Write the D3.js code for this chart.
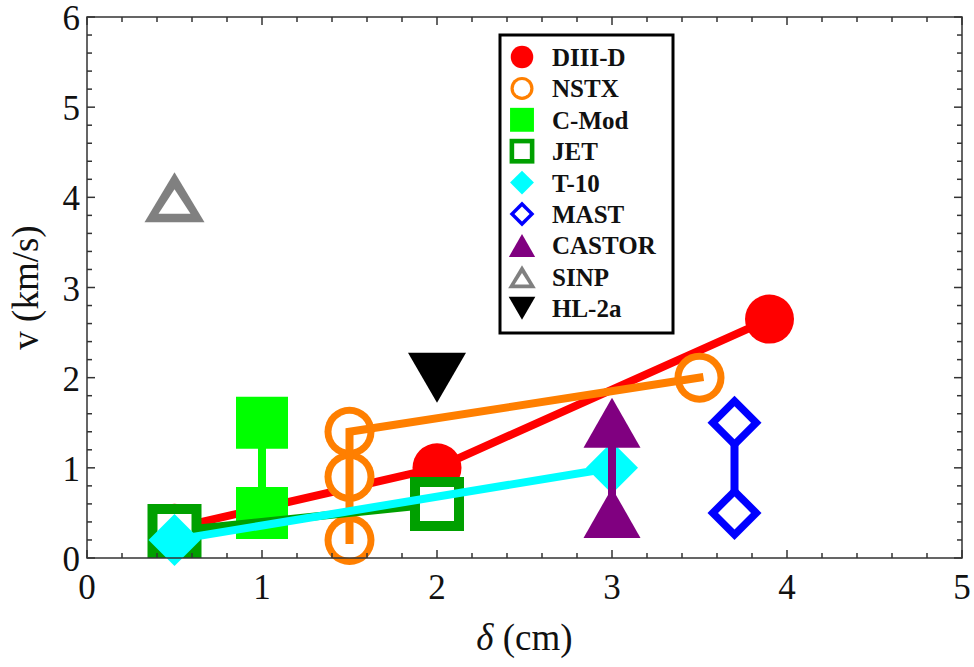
<!DOCTYPE html>
<html lang="en">
<head>
    <meta charset="utf-8">
    <title>v vs delta</title>
    <script src="https://cdn.jsdelivr.net/npm/d3@7"></script>
    <style>
        body { margin: 0; background: #fff; }
        svg { display: block; }
        text { font-family: "Liberation Serif", "Times New Roman", Times, serif; fill: #111; }
        .legend text { font-weight: bold; }
    </style>
</head>
<body>
    <svg id="chart" width="974" height="667"></svg>

    <script>
        // data: [delta (cm), v (km/s)]
        const diiid  = [[0.5, 0.33], [2, 1.0], [3.9, 2.65]];
        const nstx   = [[1.5, 0.2], [1.5, 0.9], [1.5, 1.4], [3.5, 2.0]];
        const cmod   = [[1, 1.5], [1, 0.5]];
        const jet    = [[0.5, 0.3], [2, 0.6]];
        const t10    = [[0.5, 0.2], [3, 1.0]];
        const mast   = [[3.7, 1.5], [3.7, 0.5]];
        const castor = [[3, 1.5], [3, 0.5]];
        const sinp   = [[0.5, 4.0]];
        const hl2a   = [[2, 2.0]];

        const labels = ["DIII-D", "NSTX", "C-Mod", "JET", "T-10", "MAST", "CASTOR", "SINP", "HL-2a"];
        const xTicks = [0, 1, 2, 3, 4, 5];
        const yTicks = [0, 1, 2, 3, 4, 5, 6];

        // styling per series (same order as labels)
        const colors = ["#ff0000", "#ff7f00", "#00ff00", "#00a000", "#00ffff", "#0000ff", "#800080", "#808080", "#000000"];
        const shapes = ["circle", "ocircle", "square", "osquare", "diamond", "odiamond", "triangle", "otriangle", "dtriangle"];
        const lineOnTop = [false, true, false, false, false, false, false, false, false];
        const allData = [diiid, nstx, cmod, jet, t10, mast, castor, sinp, hl2a];

        const svg = d3.select("#chart");
        const x = d3.scaleLinear().domain([0, 5]).range([87, 962]);
        const y = d3.scaleLinear().domain([0, 6]).range([558, 17]);

        // shape outlines; s = scale factor (1 for plot, smaller for legend)
        function outer(shape, s) {
            const p = d3.path();
            if (shape.endsWith("circle")) {
                const r = (shape === "circle" ? 24.5 : 25) * s;
                p.arc(0, 0, r, 0, 2 * Math.PI);
            } else if (shape.endsWith("square")) {
                const h = (shape === "square" ? 26 : 27) * s;
                p.rect(-h, -h, 2 * h, 2 * h);
            } else if (shape.endsWith("diamond")) {
                const h = (shape === "diamond" ? 26 : 27) * s;
                p.moveTo(0, -h); p.lineTo(h, 0); p.lineTo(0, h); p.lineTo(-h, 0); p.closePath();
            } else if (shape === "dtriangle") {
                const w = 29 * s, h = 25 * s;
                p.moveTo(-w, -h); p.lineTo(w, -h); p.lineTo(0, h); p.closePath();
            } else {
                const w = (shape === "triangle" ? 28.5 : 30) * s, h = 25 * s;
                p.moveTo(0, -h); p.lineTo(w, h); p.lineTo(-w, h); p.closePath();
            }
            return p.toString();
        }

        function inner(shape, s) {
            const p = d3.path();
            if (shape === "ocircle") {
                p.arc(0, 0, 18 * s, 0, 2 * Math.PI);
            } else if (shape === "osquare") {
                const h = 17 * s;
                p.rect(-h, -h, 2 * h, 2 * h);
            } else if (shape === "odiamond") {
                const h = 16.5 * s;
                p.moveTo(0, -h); p.lineTo(h, 0); p.lineTo(0, h); p.lineTo(-h, 0); p.closePath();
            } else if (shape === "otriangle") {
                p.moveTo(0, -8 * s); p.lineTo(16 * s, 16.5 * s); p.lineTo(-16 * s, 16.5 * s); p.closePath();
            } else {
                return null;
            }
            return p.toString();
        }

        function drawMarker(g, shape, color, cx, cy, s) {
            const m = g.append("g").attr("transform", `translate(${cx},${cy})`);
            m.append("path").attr("d", outer(shape, s)).attr("fill", color);
            const d = inner(shape, s);
            if (d) m.append("path").attr("d", d).attr("fill", "#fff");
        }

        const line = d3.line().x(d => x(d[0])).y(d => y(d[1]));
        const plot = svg.append("g");

        function drawLine(data, color) {
            plot.append("path")
                .attr("d", line(data))
                .attr("fill", "none")
                .attr("stroke", color)
                .attr("stroke-width", 8)
                .attr("stroke-linecap", "square")
                .attr("stroke-linejoin", "miter");
        }

        // each series: its line, then its markers (NSTX line sits over its circles)
        allData.forEach((data, i) => {
            if (data.length > 1 && !lineOnTop[i]) drawLine(data, colors[i]);
            data.forEach(d => drawMarker(plot, shapes[i], colors[i], x(d[0]), y(d[1]), 1));
            if (data.length > 1 && lineOnTop[i]) drawLine(data, colors[i]);
        });

        // frame with ticks on all sides
        const minorX = d3.range(0, 5.001, 0.2);
        const minorY = d3.range(0, 6.001, 0.2);
        const frame = svg.append("g").attr("stroke", "#333").attr("stroke-width", 1.5);
        frame.append("rect")
            .attr("x", x(0)).attr("y", y(6))
            .attr("width", x(5) - x(0)).attr("height", y(0) - y(6))
            .attr("fill", "none");

        const isMajor = v => Math.abs(v - Math.round(v)) < 1e-6;
        minorX.forEach(v => {
            const len = isMajor(v) ? 8 : 5;
            frame.append("line").attr("x1", x(v)).attr("x2", x(v)).attr("y1", y(0)).attr("y2", y(0) - len);
            frame.append("line").attr("x1", x(v)).attr("x2", x(v)).attr("y1", y(6)).attr("y2", y(6) + len);
        });
        minorY.forEach(v => {
            const len = isMajor(v) ? 8 : 5;
            frame.append("line").attr("y1", y(v)).attr("y2", y(v)).attr("x1", x(0)).attr("x2", x(0) + len);
            frame.append("line").attr("y1", y(v)).attr("y2", y(v)).attr("x1", x(5)).attr("x2", x(5) - len);
        });

        svg.append("g").selectAll("text").data(xTicks).join("text")
            .attr("x", d => x(d)).attr("y", 599)
            .attr("text-anchor", "middle")
            .attr("font-size", 35)
            .text(d => d);

        svg.append("g").selectAll("text").data(yTicks).join("text")
            .attr("x", 80).attr("y", d => y(d) + 13)
            .attr("text-anchor", "end")
            .attr("font-size", 35)
            .text(d => d);

        svg.append("text")
            .attr("x", (x(0) + x(5)) / 2).attr("y", 650)
            .attr("text-anchor", "middle")
            .attr("font-size", 37)
            .html('<tspan font-style="italic">δ</tspan> (cm)');

        svg.append("text")
            .attr("transform", `translate(38,${(y(0) + y(6)) / 2}) rotate(-90)`)
            .attr("text-anchor", "middle")
            .attr("font-size", 37)
            .text("v (km/s)");

        // legend
        const legend = svg.append("g").attr("class", "legend");
        legend.append("rect")
            .attr("x", 500).attr("y", 35).attr("width", 173).attr("height", 298)
            .attr("fill", "#fff").attr("stroke", "#000").attr("stroke-width", 3);
        labels.forEach((name, i) => {
            const cy = 57 + i * 31.4;
            drawMarker(legend, shapes[i], colors[i], 522, cy, 0.46);
            legend.append("text")
                .attr("x", 552).attr("y", cy + 9)
                .attr("font-size", 25)
                .text(name);
        });
    </script>
</body>
</html>
